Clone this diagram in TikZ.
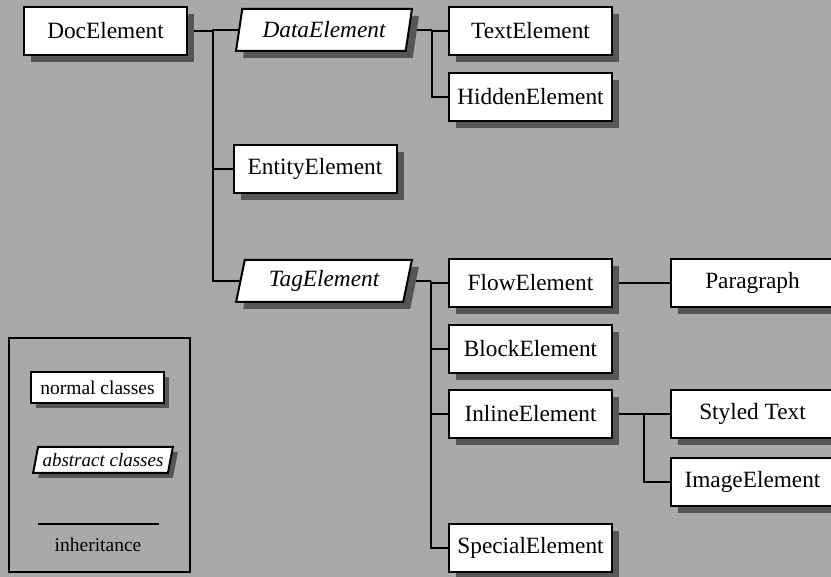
\documentclass[tikz,border=0pt]{standalone}
\usepackage{fontspec}
\setmainfont{Liberation Serif}
\usetikzlibrary{shapes.geometric,shadows}
\definecolor{paper}{RGB}{169,169,169}
\definecolor{shade}{RGB}{86,86,86}
\pgfdeclarelayer{bg}
\pgfdeclarelayer{edges}
\pgfsetlayers{bg,edges,main}
\tikzset{
  box/.style={draw,fill=white,line width=2pt,inner sep=0pt,outer sep=0pt,
    minimum width=163pt,minimum height=48pt,
    font=\fontsize{23.3}{28}\selectfont},
  cls/.style={box,drop shadow={shadow xshift=7pt,shadow yshift=-7pt,fill=shade,opacity=1}},
  abs/.style={cls,trapezium,trapezium left angle=74,trapezium right angle=106,
    trapezium stretches=true,minimum width=176pt,minimum height=42pt,
    font=\fontsize{23.3}{28}\selectfont\itshape},
  small/.style={box,minimum width=133pt,minimum height=31pt,
    font=\fontsize{19.5}{23}\selectfont,
    drop shadow={shadow xshift=5pt,shadow yshift=-5pt,fill=shade,opacity=1}},
  link/.style={draw,line width=2pt}
}
\begin{document}
\begin{tikzpicture}[x=1pt,y=-1pt]
  \useasboundingbox (0,0) rectangle (831,577);
  \begin{pgfonlayer}{bg}
    \fill[paper] (0,0) rectangle (831,577);
  \end{pgfonlayer}

  % classes
  \node[cls] (doc) at (105.5,31) {DocElement};
  \node[abs] (data) at (324,30) {DataElement};
  \node[cls] (entity) at (315,169) {EntityElement};
  \node[abs] (tag) at (324,281) {TagElement};
  \node[cls] (text) at (530.5,31) {TextElement};
  \node[cls] (hidden) at (530.5,97) {HiddenElement};
  \node[cls] (flow) at (530.5,283) {FlowElement};
  \node[cls] (block) at (530.5,349) {BlockElement};
  \node[cls] (inline) at (530.5,414) {InlineElement};
  \node[cls] (special) at (530.5,548) {SpecialElement};
  \node[cls] (para) at (752.5,283) {Paragraph};
  \node[cls] (styled) at (752.5,414) {Styled Text};
  \node[cls] (image) at (752.5,482) {ImageElement};

  % inheritance lines
  \begin{pgfonlayer}{edges}
    \path[link] (doc.east) -- ++(26,0) coordinate (docfork);
    \path[link] (docfork) |- (data.west);
    \path[link] (docfork) |- (entity.west);
    \path[link] (docfork) |- (tag.west);
    \path[link] (data.east) -- ++(23,0) coordinate (datafork);
    \path[link] (datafork) |- (text.west);
    \path[link] (datafork) |- (hidden.west);
    \path[link] (tag.east) -- ++(23,0) coordinate (tagfork);
    \path[link] (tagfork) |- (flow.west);
    \path[link] (tagfork) |- (block.west);
    \path[link] (tagfork) |- (inline.west);
    \path[link] (tagfork) |- (special.west);
    \path[link] (flow.east) -- (para.west);
    \path[link] (inline.east) -- ++(32,0) coordinate (inlinefork);
    \path[link] (inlinefork) |- (styled.west);
    \path[link] (inlinefork) |- (image.west);
  \end{pgfonlayer}

  % legend
  \draw[line width=2pt] (9,338) rectangle (190,572);
  \node[small] (normal) at (97.5,388) {normal classes};
  \node[small,trapezium,trapezium left angle=71,trapezium right angle=109,
    trapezium stretches=true,minimum width=140pt,minimum height=26pt,
    font=\fontsize{19}{23}\selectfont\itshape] (abstract) at (103,460) {abstract classes};
  \coordinate (inhleft) at (38,524);
  \coordinate (inhright) at (159,524);
  \path[link] (inhleft) -- (inhright);
  \node[font=\fontsize{19.5}{23}\selectfont] (inh) at (98,545) {inheritance};
\end{tikzpicture}
\end{document}
